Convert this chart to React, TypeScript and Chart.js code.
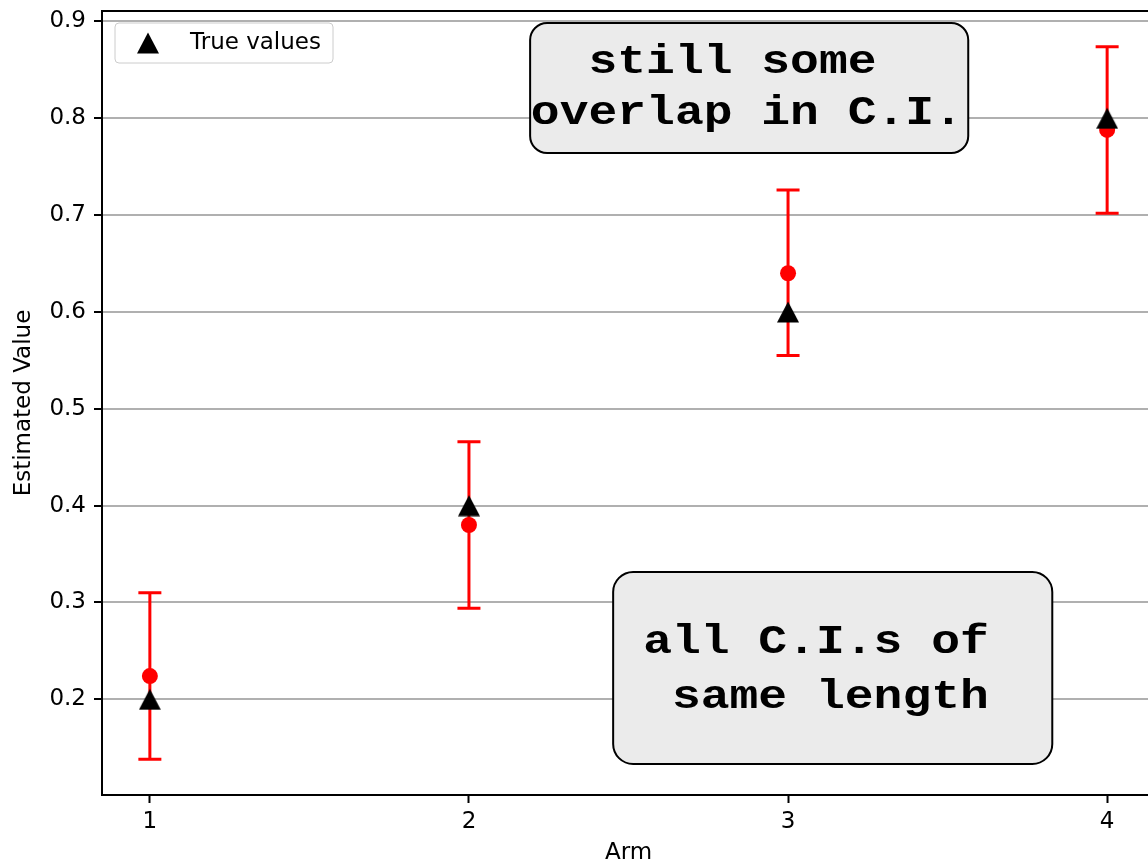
import React, { useEffect, useRef } from "react";
import { Chart, registerables } from "chart.js";

Chart.register(...registerables);

// ---- data ----
const arms = [1, 2, 3, 4];
const trueValues = [0.2, 0.4, 0.6, 0.8];
const estimates = [0.224, 0.38, 0.64, 0.788];
const ciLower = [0.138, 0.294, 0.555, 0.702];
const ciUpper = [0.31, 0.466, 0.726, 0.874];
const xTicks = [1, 2, 3, 4];
const yTicks = [0.2, 0.3, 0.4, 0.5, 0.6, 0.7, 0.8, 0.9];
const legendLabel = "True values";
const xTitle = "Arm";
const yTitle = "Estimated Value";
const noteTopLines = ["  still some", "overlap in C.I."];
const noteBottomLines = ["all C.I.s of", " same length"];

// annotation placement (data coordinates)
const noteTop = { x0: 2.1917, x1: 3.5647, yTop: 0.8984, yBot: 0.7642, textX: 2.194, baselines: [0.8468, 0.7941], radius: 17, lines: noteTopLines };
const noteBottom = { x0: 2.4519, x1: 3.8281, yTop: 0.3315, yBot: 0.1332, textX: 2.5459, baselines: [0.2478, 0.1911], radius: 20, lines: noteBottomLines };

const SANS = '"DejaVu Sans", sans-serif';
const MONO = '"Liberation Mono", "Courier New", monospace';
const FS = 23;
const VW = 1148;
const CW = 1166;
const CH = 865;

function makeTriangle(): HTMLCanvasElement {
  const c = document.createElement("canvas");
  c.width = 22;
  c.height = 22;
  const g = c.getContext("2d")!;
  g.fillStyle = "#000000";
  g.beginPath();
  g.moveTo(11, 0.5);
  g.lineTo(22, 21.5);
  g.lineTo(0, 21.5);
  g.closePath();
  g.fill();
  return c;
}

export default function App() {
  const ref = useRef<HTMLCanvasElement | null>(null);

  useEffect(() => {
    const canvas = ref.current;
    if (!canvas) return;
    const tri = makeTriangle();

    const errorBars = {
      id: "errorBars",
      beforeDatasetsDraw(chart: any) {
        const { ctx } = chart;
        const xs = chart.scales.x;
        const ys = chart.scales.y;
        ctx.save();
        ctx.strokeStyle = "#ff0000";
        ctx.lineWidth = 3;
        arms.forEach((a, i) => {
          const px = xs.getPixelForValue(a);
          const pl = ys.getPixelForValue(ciLower[i]);
          const pu = ys.getPixelForValue(ciUpper[i]);
          ctx.beginPath();
          ctx.moveTo(px, pl);
          ctx.lineTo(px, pu);
          ctx.moveTo(px - 11.5, pl);
          ctx.lineTo(px + 11.5, pl);
          ctx.moveTo(px - 11.5, pu);
          ctx.lineTo(px + 11.5, pu);
          ctx.stroke();
        });
        ctx.restore();
      },
    };

    const drawNote = (chart: any, note: any) => {
      const { ctx } = chart;
      const xs = chart.scales.x;
      const ys = chart.scales.y;
      const x0 = xs.getPixelForValue(note.x0);
      const x1 = xs.getPixelForValue(note.x1);
      const y0 = ys.getPixelForValue(note.yTop);
      const y1 = ys.getPixelForValue(note.yBot);
      ctx.save();
      ctx.beginPath();
      ctx.roundRect(x0, y0, x1 - x0, y1 - y0, note.radius);
      ctx.fillStyle = "#ebebeb";
      ctx.fill();
      ctx.lineWidth = 2;
      ctx.strokeStyle = "#000000";
      ctx.stroke();
      ctx.fillStyle = "#000000";
      ctx.font = `bold 48px ${MONO}`;
      ctx.textAlign = "left";
      ctx.textBaseline = "alphabetic";
      const tx = xs.getPixelForValue(note.textX);
      note.lines.forEach((line: string, i: number) => {
        ctx.save();
        ctx.translate(tx, ys.getPixelForValue(note.baselines[i]));
        ctx.scale(1, 0.84);
        ctx.fillText(line, 0, 0);
        ctx.restore();
      });
      ctx.restore();
    };

    const overlay = {
      id: "overlay",
      afterDatasetsDraw(chart: any) {
        const { ctx, chartArea } = chart;
        // top & right spines
        ctx.save();
        ctx.strokeStyle = "#000000";
        ctx.lineWidth = 2;
        ctx.beginPath();
        ctx.moveTo(chartArea.left - 1, chartArea.top);
        ctx.lineTo(chartArea.right, chartArea.top);
        ctx.lineTo(chartArea.right, chartArea.bottom);
        ctx.stroke();
        ctx.restore();

        // legend
        const lx = chartArea.left + 13;
        const ly = chartArea.top + 12;
        ctx.save();
        ctx.beginPath();
        ctx.roundRect(lx, ly, 218, 40, 4);
        ctx.fillStyle = "rgba(255,255,255,0.8)";
        ctx.fill();
        ctx.lineWidth = 1;
        ctx.strokeStyle = "#cccccc";
        ctx.stroke();
        ctx.drawImage(tri, chartArea.left + 46 - 11, ly + 20 - 11);
        ctx.fillStyle = "#000000";
        ctx.font = `${FS}px ${SANS}`;
        ctx.textAlign = "left";
        ctx.textBaseline = "middle";
        ctx.fillText(chart.data.datasets[0].label, chartArea.left + 88, ly + 20);
        ctx.restore();

        drawNote(chart, noteTop);
        drawNote(chart, noteBottom);
      },
    };

    const chart = new Chart(canvas, {
      type: "scatter",
      data: {
        datasets: [
          {
            label: legendLabel,
            data: arms.map((a, i) => ({ x: a, y: trueValues[i] })),
            pointStyle: tri as any,
            pointRadius: 11,
            backgroundColor: "#000000",
            borderWidth: 0,
          },
          {
            label: "Estimates",
            data: arms.map((a, i) => ({ x: a, y: estimates[i] })),
            pointStyle: "circle",
            pointRadius: 8,
            backgroundColor: "#ff0000",
            borderWidth: 0,
          },
        ],
      },
      options: {
        responsive: false,
        maintainAspectRatio: false,
        animation: false,
        devicePixelRatio: 1,
        layout: { padding: { top: 11, right: 0, left: 0, bottom: 0 } },
        plugins: { legend: { display: false }, tooltip: { enabled: false } },
        scales: {
          x: {
            type: "linear",
            min: 0.85,
            max: 4.15,
            afterBuildTicks: (s: any) => {
              s.ticks = xTicks.map((v) => ({ value: v }));
            },
            afterFit: (s: any) => {
              s.height = 70;
              s.paddingLeft = 0;
              s.paddingRight = 0;
            },
            ticks: {
              color: "#000000",
              font: { family: SANS, size: FS },
              padding: 5,
              maxRotation: 0,
              autoSkip: false,
              callback: (v: any) => String(v),
            },
            grid: {
              drawOnChartArea: false,
              drawTicks: true,
              tickLength: 8,
              tickColor: "#000000",
              tickWidth: 2,
            },
            border: { display: true, color: "#000000", width: 2 },
            title: {
              display: true,
              text: xTitle,
              color: "#000000",
              font: { family: SANS, size: FS, lineHeight: 1 },
              padding: { top: 0, bottom: 0 },
            },
          },
          y: {
            type: "linear",
            min: 0.1012,
            max: 0.9108,
            afterBuildTicks: (s: any) => {
              s.ticks = yTicks.map((v) => ({ value: v }));
            },
            afterFit: (s: any) => {
              s.width = 102;
              s.paddingTop = 0;
              s.paddingBottom = 0;
            },
            ticks: {
              color: "#000000",
              font: { family: SANS, size: FS },
              padding: 8,
              autoSkip: false,
              callback: (v: any) => Number(v).toFixed(1),
            },
            grid: {
              color: "#b0b0b0",
              lineWidth: 2,
              drawTicks: true,
              tickLength: 8,
              tickColor: "#000000",
              tickWidth: 2,
            },
            border: { display: true, color: "#000000", width: 2 },
            title: {
              display: true,
              text: yTitle,
              color: "#000000",
              font: { family: SANS, size: FS, lineHeight: 1 },
              padding: { top: 13, bottom: 0 },
            },
          },
        },
      },
      plugins: [errorBars, overlay],
    } as any);

    return () => chart.destroy();
  }, []);

  return (
    <div
      style={{
        position: "fixed",
        left: 0,
        top: 0,
        width: VW,
        height: CH,
        overflow: "hidden",
        background: "#ffffff",
      }}
    >
      <div style={{ width: CW, height: CH }}>
        <canvas
          ref={ref}
          width={CW}
          height={CH}
          style={{ display: "block", width: CW, height: CH }}
        />
      </div>
    </div>
  );
}
